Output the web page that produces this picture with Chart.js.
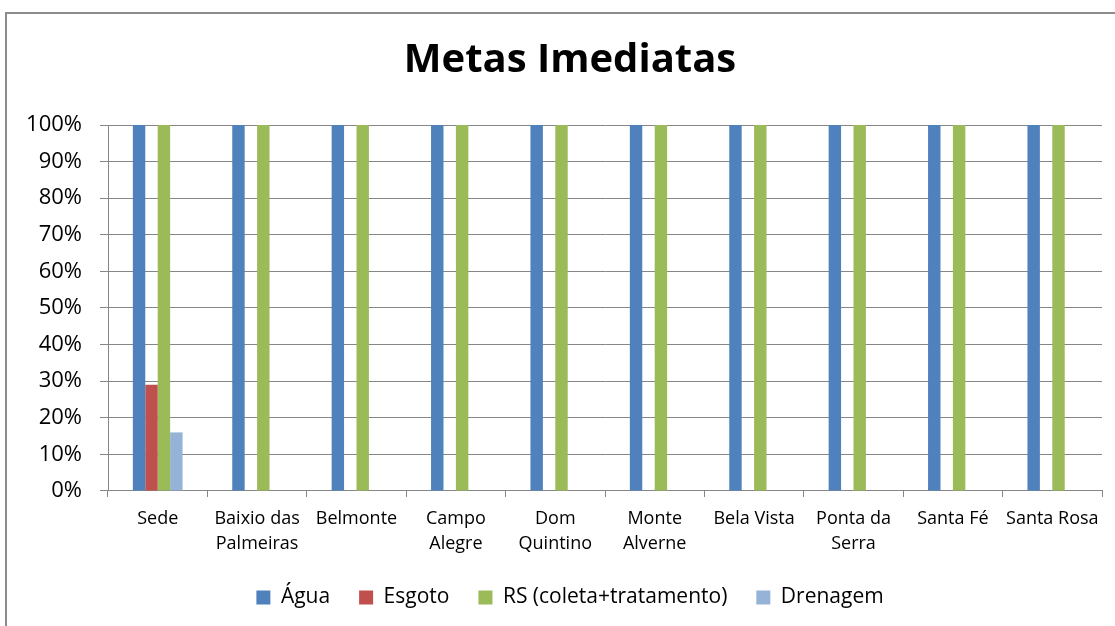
<!DOCTYPE html>
<html><head><meta charset="utf-8">
<script src="https://cdn.jsdelivr.net/npm/chart.js@4.4.1/dist/chart.umd.min.js"></script>
<style>
html,body{margin:0;padding:0;background:#fff;}
#frame{position:absolute;left:5px;top:12px;width:1140px;height:650px;border:2px solid #8c8c8c;box-sizing:border-box;}
#wrap{position:absolute;left:0;top:0;width:1115px;height:626px;}
</style></head>
<body>
<div id="frame"></div>
<div id="wrap"><canvas id="c" width="1115" height="626"></canvas></div>
<script>
const categories = ["Sede", ["Baixio das","Palmeiras"], "Belmonte", ["Campo","Alegre"], ["Dom","Quintino"], ["Monte","Alverne"], "Bela Vista", ["Ponta da","Serra"], "Santa Fé", "Santa Rosa"];
const agua = [100,100,100,100,100,100,100,100,100,100];
const esgoto = [29,0,0,0,0,0,0,0,0,0];
const rs = [100,100,100,100,100,100,100,100,100,100];
const drenagem = [16,0,0,0,0,0,0,0,0,0];
const yTicks = [0,10,20,30,40,50,60,70,80,90,100];

const FONT = "'Open Sans', sans-serif";
new Chart(document.getElementById('c'), {
  type: 'bar',
  data: {
    labels: categories,
    datasets: [
      {label:'Água', data: agua, backgroundColor:'#4F81BD'},
      {label:'Esgoto', data: esgoto, backgroundColor:'#C0504D'},
      {label:'RS (coleta+tratamento)', data: rs, backgroundColor:'#9BBB59'},
      {label:'Drenagem', data: drenagem, backgroundColor:'#95B3D7'}
    ]
  },
  options: {
    responsive:false, animation:false,
    devicePixelRatio:1,
    datasets:{bar:{categoryPercentage:0.5, barPercentage:1.0, borderWidth:0}},
    layout:{padding:{left:38,right:13,top:12,bottom:8}},
    plugins:{
      title:{display:true, text:'Metas Imediatas', color:'#000', font:{family:FONT, size:40, weight:'bold', lineHeight:1.2}, padding:{top:25,bottom:40}},
      legend:{position:'bottom', labels:{boxWidth:14, boxHeight:14, padding:29, color:'#000', font:{family:FONT, size:21}}},
      tooltip:{enabled:false}
    },
    scales:{
      x:{
        afterFit: (ax)=>{ ax.height -= 7; },
        grid:{drawOnChartArea:false, drawTicks:true, tickLength:6, offset:true, color:'#868686'},
        border:{color:'#868686', width:1},
        ticks:{color:'#000', font:{family:FONT, size:18, lineHeight:1.39}, maxRotation:0, autoSkip:false, padding:9}
      },
      y:{
        min:0, max:100,
        afterBuildTicks: (ax)=>{ ax.ticks = yTicks.map(v=>({value:v})); },
        afterFit: (ax)=>{ ax.width = 70; ax._computeLabelArea = () => undefined; },
        grid:{color:'#868686', tickLength:8, lineWidth:1},
        border:{color:'#868686', width:1},
        ticks:{color:'#000', font:{family:FONT, size:22}, padding:18, callback:(v)=>v+'%'}
      }
    }
  }
});
</script>
</body></html>
